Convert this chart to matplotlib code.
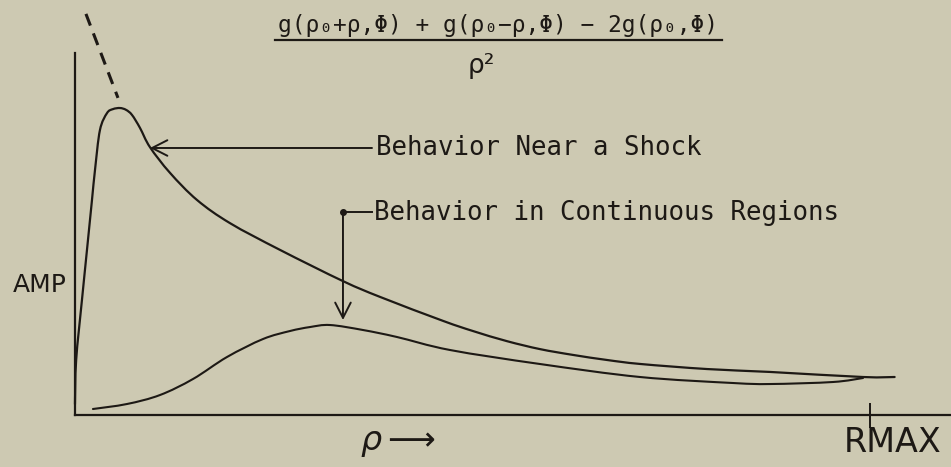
import matplotlib
matplotlib.use("Agg")
import numpy as np
import matplotlib.pyplot as plt
from matplotlib.path import Path
from matplotlib.patches import PathPatch

plt.rcParams["lines.scale_dashes"] = False
plt.rcParams["font.family"] = ["DejaVu Sans"]

# Normalised radius (RMAX = 1) and amplitude of the second-difference estimate
shock_rho = [0.0, 0.0015, 0.0088, 0.0151, 0.0214, 0.0252, 0.0314, 0.0403, 0.0478,
             0.0566, 0.0642, 0.0717, 0.0818, 0.0943, 0.1195, 0.1535, 0.195,
             0.258, 0.337, 0.384, 0.463, 0.5006, 0.5434, 0.585, 0.6264,
             0.6692, 0.711, 0.795, 0.874, 0.991, 1.031]
shock_amp = [0.03, 0.152, 0.318, 0.456, 0.594, 0.677, 0.787, 0.834, 0.845,
             0.848, 0.843, 0.829, 0.793, 0.740, 0.669, 0.594, 0.530,
             0.456, 0.370, 0.326, 0.260, 0.232, 0.204, 0.182, 0.166,
             0.152, 0.141, 0.127, 0.119, 0.105, 0.105]

smooth_rho = [0.0226, 0.0654, 0.1069, 0.1484, 0.1912, 0.2365, 0.2704,
              0.2956, 0.3208, 0.3623, 0.4050, 0.4717, 0.5849, 0.7107, 0.8277,
              0.8742, 0.9535, 0.9912]
smooth_amp = [0.0166, 0.0304, 0.0552, 0.0994, 0.1602, 0.2099, 0.2320,
              0.2430, 0.2486, 0.2348, 0.2155, 0.1796, 0.1409, 0.1050, 0.0884,
              0.0856, 0.0912, 0.1022]

# Singular continuation of the shock curve toward rho -> 0
singular_rho = [0.0138, 0.0541]
singular_amp = [1.108, 0.876]

rmax_tick = [1.0]
rmax_label = "RMAX"
shock_label = "Behavior Near a Shock"
smooth_label = "Behavior in Continuous Regions"
shock_arrow = {"text": (0.3736, 0.7376), "tip": (0.0943, 0.7376)}
smooth_arrow = {"text": (0.3736, 0.5608), "corner": (0.3371, 0.5608), "tip": (0.3371, 0.2624)}

ink = "#1d1915"
paper = "#cdc9b2"


def pen_stroke(xs, ys):
    """Smooth pen-like curve through the given points (Catmull-Rom as cubic Beziers)."""
    p = np.column_stack([xs, ys]).astype(float)
    ext = np.vstack([p[0], p, p[-1]])
    verts = [p[0]]
    codes = [Path.MOVETO]
    for i in range(len(p) - 1):
        p0, p1, p2, p3 = ext[i], ext[i + 1], ext[i + 2], ext[i + 3]
        verts += [p1 + (p2 - p0) / 6.0, p2 - (p3 - p1) / 6.0, p2]
        codes += [Path.CURVE4] * 3
    return Path(verts, codes)


fig = plt.figure(figsize=(9.51, 4.67), dpi=100, facecolor=paper)
ax = fig.add_axes([0, 0, 1, 1])
ax.set_facecolor(paper)
ax.set_xlim(-0.0943, 1.1019)
ax.set_ylim(-0.1436, 1.1464)

for s in ("top", "right"):
    ax.spines[s].set_visible(False)
ax.spines["left"].set_position(("data", 0))
ax.spines["bottom"].set_position(("data", 0))
ax.spines["left"].set_bounds(0, 1.0)
ax.spines["bottom"].set_bounds(0, 1.1019)
for s in ("left", "bottom"):
    ax.spines[s].set_color(ink)
    ax.spines[s].set_linewidth(1.6)
ax.set_yticks([])
ax.set_xticks(rmax_tick)
ax.set_xticklabels([""])
ax.tick_params(axis="x", direction="inout", length=18, width=1.4, color=ink)

ax.add_patch(PathPatch(pen_stroke(shock_rho, shock_amp), fill=False, edgecolor=ink,
                       lw=1.6, capstyle="round", joinstyle="round"))
ax.add_patch(PathPatch(pen_stroke(smooth_rho, smooth_amp), fill=False, edgecolor=ink,
                       lw=1.5, capstyle="round", joinstyle="round"))
ax.plot(singular_rho, singular_amp, color=ink, lw=2.2, dashes=(9, 6))

arrow_kw = dict(arrowstyle="->,head_length=0.55,head_width=0.28", color=ink, lw=1.4,
                mutation_scale=20, shrinkA=0, shrinkB=0)
ax.annotate("", xy=shock_arrow["tip"], xytext=shock_arrow["text"], arrowprops=arrow_kw)
ax.plot([smooth_arrow["text"][0], smooth_arrow["corner"][0]],
        [smooth_arrow["text"][1], smooth_arrow["corner"][1]], color=ink, lw=1.4)
ax.annotate("", xy=smooth_arrow["tip"], xytext=smooth_arrow["corner"], arrowprops=arrow_kw)
ax.plot(*smooth_arrow["corner"], "o", color=ink, ms=4)

label_font = dict(family=["DejaVu Sans Mono"], fontsize=18.5, color=ink)
ax.text(0.3786, 0.7376, shock_label, ha="left", va="center", **label_font)
ax.text(0.3760, 0.558, smooth_label, ha="left", va="center", **label_font)
ax.text(-0.010, 0.359, "AMP", fontsize=18, color=ink, ha="right", va="center")
ax.text(0.3585, -0.0746, r"$\rho \longrightarrow$", fontsize=24, color=ink, ha="left", va="center")
ax.text(1.029, -0.077, rmax_label, fontsize=24, color=ink, ha="center", va="center")

# Formula heading
ax.text(0.532, 1.077, "g(ρ₀+ρ,Φ) + g(ρ₀−ρ,Φ) − 2g(ρ₀,Φ)", family=["DejaVu Sans Mono"],
        fontsize=16.5, color=ink, ha="center", va="center")
ax.plot([0.2516, 0.8138], [1.036, 1.036], color=ink, lw=1.6)
ax.text(0.511, 0.964, "ρ²", fontsize=19, color=ink, ha="center", va="center")

fig.savefig("out.png", dpi=100, facecolor=paper)
